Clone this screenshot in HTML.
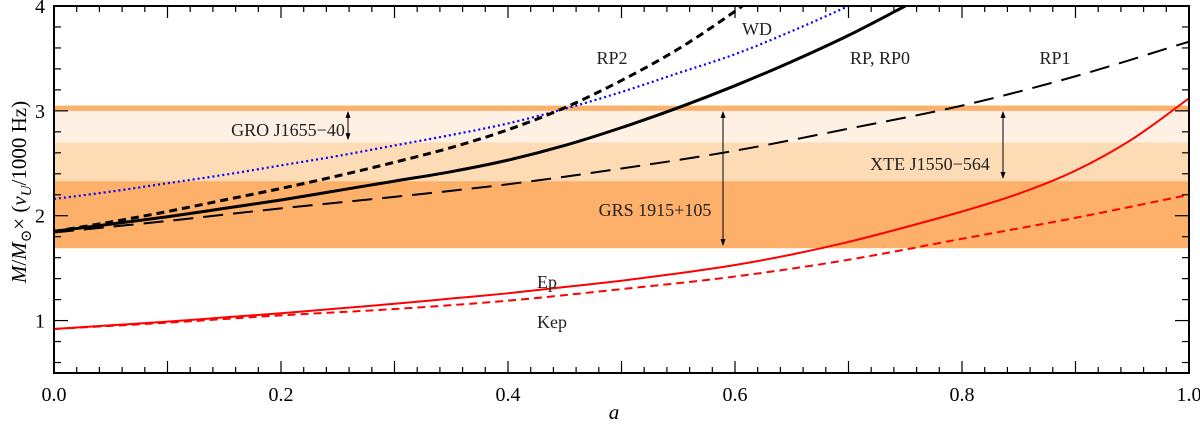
<!DOCTYPE html>
<html><head><meta charset="utf-8">
<style>
html,body{margin:0;padding:0;background:#fff;}
svg{display:block;}
text{font-family:"Liberation Serif","DejaVu Serif",serif;}
</style></head>
<body>
<svg id="chart" width="1200" height="424" viewBox="0 0 1200 424" xmlns="http://www.w3.org/2000/svg" font-family="Liberation Serif, serif"></svg>
<script>
// ---- data ----
const spinGrid = [0,0.05,0.1,0.15,0.2,0.25,0.3,0.35,0.4,0.45,0.5,0.55,0.6,0.65,0.7,0.75];
const rpValues = [1.85,1.92,1.99,2.07,2.15,2.24,2.33,2.42,2.53,2.67,2.84,3.03,3.24,3.47,3.72,4.0];
const rp2Grid = [0,0.05,0.1,0.15,0.2,0.25,0.3,0.35,0.4,0.45,0.5,0.55,0.6,0.65];
const rp2Values = [1.85,1.94,2.04,2.15,2.26,2.38,2.51,2.65,2.82,3.03,3.29,3.59,3.95,4.35];
const wdGrid = [0,0.05,0.1,0.15,0.2,0.25,0.3,0.35,0.4,0.45,0.5,0.55,0.6,0.65,0.7,0.75];
const wdValues = [2.16,2.23,2.31,2.39,2.48,2.57,2.67,2.77,2.88,3.02,3.18,3.36,3.54,3.76,4.0,4.25];
const tenthGrid = [0,0.1,0.2,0.3,0.4,0.5,0.6,0.7,0.8,0.9,1.0];
const rp1Values = [1.84,1.95,2.07,2.18,2.30,2.45,2.62,2.83,3.05,3.33,3.66];
const epGrid = [0,0.05,0.1,0.15,0.2,0.25,0.3,0.35,0.4,0.45,0.5,0.55,0.6,0.65,0.7,0.75,0.8,0.85,0.9,0.95,1.0];
const epValues = [0.92,0.955,0.99,1.03,1.07,1.115,1.16,1.21,1.26,1.32,1.38,1.45,1.53,1.63,1.75,1.89,2.04,2.21,2.43,2.73,3.12];
const kepValues = [0.92,0.98,1.05,1.11,1.19,1.30,1.42,1.58,1.78,1.98,2.20];
// bands [low, high]
const bandRanges = [[1.69,2.33],[2.33,2.70],[2.70,3.00],[3.00,3.05]];
const xTickLabels = ["0.0","0.2","0.4","0.6","0.8","1.0"];
const yTickLabels = ["1","2","3","4"];

// ---- axes ----
const X0=54, X1=1189, Y0=373, Y1=6, YMIN=0.5, YMAX=4;
const xs = a => X0 + a*(X1-X0);
const ys = v => Y0 - (v-YMIN)/(YMAX-YMIN)*(Y0-Y1);
const NS="http://www.w3.org/2000/svg";
const svg=document.getElementById('chart');
function mk(tag, attrs, parent){const e=document.createElementNS(NS,tag);for(const k in attrs)e.setAttribute(k,attrs[k]);(parent||svg).appendChild(e);return e;}

const defs=mk('defs',{});
const cp=mk('clipPath',{id:'clip'},defs);
mk('rect',{x:X0,y:Y1,width:X1-X0,height:Y0-Y1},cp);

// bands
const bandColors=['#fdb06a','#fddbb5','#fef0e3','#fdb06a'];
const bandNames=['band-grs-1915','band-xte-j1550','band-gro-j1655','band-top-edge'];
bandRanges.forEach((b,i)=>{
  const r=mk('rect',{x:X0,y:ys(b[1]),width:X1-X0,height:ys(b[0])-ys(b[1]),fill:bandColors[i]});
  
  
});

function pathFrom(xa, ya){
  const p=xa.map((a,i)=>[xs(a),ys(ya[i])]);
  let d='M'+p[0][0]+','+p[0][1];
  for(let i=0;i<p.length-1;i++){
    const p0=p[Math.max(0,i-1)],p1=p[i],p2=p[i+1],p3=p[Math.min(p.length-1,i+2)];
    const c1x=p1[0]+(p2[0]-p0[0])/6,c1y=p1[1]+(p2[1]-p0[1])/6;
    const c2x=p2[0]-(p3[0]-p1[0])/6,c2y=p2[1]-(p3[1]-p1[1])/6;
    d+=` C${c1x},${c1y} ${c2x},${c2y} ${p2[0]},${p2[1]}`;
  }
  return d;
}
const g=mk('g',{'clip-path':'url(#clip)'});
function series(name,xa,ya,stroke,w,dash){
  const e=mk('path',{d:pathFrom(xa,ya),fill:'none',stroke:stroke,'stroke-width':w},g);
  if(dash)e.setAttribute('stroke-dasharray',dash);
  
  
}
series('curve-wd',wdGrid,wdValues,'#0000ff',2.2,'2 3');
series('curve-rp1',tenthGrid,rp1Values,'#000',2,'20 10');
series('curve-rp2',rp2Grid,rp2Values,'#000',3,'8 5');
series('curve-rp',spinGrid,rpValues,'#000',3,null);
series('curve-kep',tenthGrid,kepValues,'#ff0000',2,'8 5');
series('curve-ep',epGrid,epValues,'#ff0000',2,null);

// arrows
function arrow(name,x,v1,v2){
  const a=mk('g',{});
  
  
  const y1=ys(v1),y2=ys(v2);
  mk('line',{x1:x,y1:y1+3,x2:x,y2:y2-3,stroke:'#000','stroke-width':1},a);
  mk('path',{d:`M${x},${y1} l-2.5,7 l5,0 z`,fill:'#000'},a);
  mk('path',{d:`M${x},${y2} l-2.5,-7 l5,0 z`,fill:'#000'},a);
}
arrow('arrow-gro',348,3.0,2.72);
arrow('arrow-xte',1003,3.0,2.35);
arrow('arrow-grs',723,3.0,1.71);

// frame + ticks
const ax=mk('g',{stroke:'#000','stroke-width':1.2});


mk('rect',{x:X0,y:Y1,width:X1-X0,height:Y0-Y1,fill:'none','stroke-width':2},ax);
for(let i=0;i<=50;i++){
  const a=i/50, x=xs(a), L=(i%5===0)?12:6;
  mk('line',{x1:x,y1:Y0,x2:x,y2:Y0-L},ax);
  mk('line',{x1:x,y1:Y1,x2:x,y2:Y1+L},ax);
}
for(let i=0;i<=17;i++){
  const v=0.6+i*0.2; const y=ys(v); const maj=Math.abs(v-Math.round(v))<1e-6; const L=maj?14:7;
  if(v>4.01)continue;
  mk('line',{x1:X0,y1:y,x2:X0+L,y2:y},ax);
  mk('line',{x1:X1,y1:y,x2:X1-L,y2:y},ax);
}
// tick labels
xTickLabels.forEach((t,i)=>{
  const e=mk('text',{x:xs(i*0.2),y:401,'text-anchor':'middle','font-size':20,fill:'#000'});
  e.textContent=t;
  
  
});
yTickLabels.forEach((t,i)=>{
  const e=mk('text',{x:45,y:ys(i+1)+7,'text-anchor':'end','font-size':20,fill:'#000'});
  e.textContent=t;
  
  
});
</script>
<svg width="1200" height="424" style="position:absolute;left:0;top:0;" font-family="Liberation Serif, serif" xmlns="http://www.w3.org/2000/svg">
<text x="614" y="419" font-size="21" font-style="italic" text-anchor="middle">a</text>
<text transform="translate(26,192) rotate(-90)" font-size="21" text-anchor="middle"><tspan font-style="italic">M</tspan>/<tspan font-style="italic">M</tspan><tspan font-size="15" dy="5">⊙</tspan><tspan dy="-5">× (</tspan><tspan font-style="italic">ν</tspan><tspan font-size="15" dy="5" font-style="italic">U</tspan><tspan dy="-5">/1000 Hz)</tspan></text>
<g font-size="18" fill="#222" text-anchor="middle">
<text x="612" y="64">RP2</text>
<text x="757" y="35">WD</text>
<text x="880" y="64">RP, RP0</text>
<text x="1055" y="64">RP1</text>
<text x="288" y="136">GRO J1655−40</text>
<text x="930" y="170">XTE J1550−564</text>
<text x="655" y="216">GRS 1915+105</text>
<text x="547" y="288">Ep</text>
<text x="552" y="328">Kep</text>
</g>
</svg>
</body></html>
